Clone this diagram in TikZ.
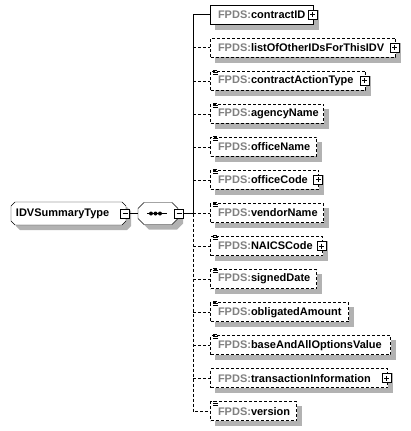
\documentclass[tikz,border=0pt]{standalone}
\usepackage{fontspec}
\setmainfont{Liberation Sans}
\usepackage{xcolor}
\usepackage{tikz}
\usetikzlibrary{backgrounds,calc}
\definecolor{nsgray}{RGB}{128,128,128}
\newcommand{\fpds}[1]{\mbox{\textcolor{nsgray}{FPDS:}#1}}
\newcommand{\facet}[1]{\draw[line width=.8pt] ([xshift=3pt,yshift=.5pt]#1.north west) -- ++(4,0) ([xshift=3pt,yshift=-1.5pt]#1.north west) -- ++(5,0) ([xshift=3pt,yshift=-3.5pt]#1.north west) -- ++(5,0);}
\newcommand{\castshadow}[1]{\path[fill=black!30] ([xshift=5pt,yshift=-5pt]#1.north west) rectangle ([xshift=5pt,yshift=-5pt]#1.south east);}
% octagon round a node: node, cut, extra shift
\newcommand{\octo}[3]{([#3,xshift=#2]#1.north west) -- ([#3,xshift=-#2]#1.north east) -- ([#3,yshift=-#2]#1.north east) -- ([#3,yshift=#2]#1.south east) -- ([#3,xshift=-#2]#1.south east) -- ([#3,xshift=#2]#1.south west) -- ([#3,yshift=#2]#1.south west) -- ([#3,yshift=-#2]#1.north west) -- cycle}

\begin{document}
\begin{tikzpicture}[
  x=1pt, y=-1pt, line width=1pt,
  font=\fontsize{11}{13}\selectfont\bfseries,
  elem/.style={draw,fill=white,minimum height=19pt,inner xsep=7.5pt,inner ysep=0pt,anchor=west,text width=#1,align=left},
  opt/.style={dash pattern=on 3pt off 2pt},
  typebx/.style={minimum height=22pt,inner xsep=4.5pt,inner ysep=0pt,anchor=west,text width=105pt,align=left},
  seqbx/.style={minimum width=39pt,minimum height=21pt,inner sep=0pt,anchor=west},
  expandbx/.style={draw,solid,fill=white,minimum size=9pt,inner sep=0pt,
    path picture={\draw ([xshift=2pt]path picture bounding box.west) -- ([xshift=-2pt]path picture bounding box.east);
                  \draw ([yshift=-2pt]path picture bounding box.north) -- ([yshift=2pt]path picture bounding box.south);}},
  collapsebx/.style={draw,solid,fill=white,minimum size=9pt,inner sep=0pt,
    path picture={\draw ([xshift=2pt]path picture bounding box.west) -- ([xshift=-2pt]path picture bounding box.east);}}
]
\useasboundingbox (0,0) rectangle (410,431);
% the complex type and its sequence
\node[typebx] (idv) at (11,213.5) {IDVSummaryType};
\node[seqbx] (seq) at (138,213.5) {};
\node[collapsebx] (m1) at ([xshift=-1pt]idv.east) {};
% child elements
\node[elem=88pt] (c1) at (210,14.5) {\fpds{contractID}};
\node[elem=170pt,opt] (c2) at (210,47.6) {\fpds{listOfOtherIDsForThisIDV}};
\node[elem=140pt,opt] (c3) at (210,80.7) {\fpds{contractActionType}};
\node[elem=98pt,opt] (c4) at (210,113.7) {\fpds{agencyName}};
\node[elem=91pt,opt] (c5) at (210,146.8) {\fpds{officeName}};
\node[elem=93pt,opt] (c6) at (210,179.9) {\fpds{officeCode}};
\node[elem=98pt,opt] (c7) at (210,213) {\fpds{vendorName}};
\node[elem=97pt,opt] (c8) at (210,246) {\fpds{NAICSCode}};
\node[elem=91pt,opt] (c9) at (210,279.1) {\fpds{signedDate}};
\node[elem=123pt,opt] (c10) at (210,312.2) {\fpds{obligatedAmount}};
\node[elem=165pt,opt] (c11) at (210,345.3) {\fpds{baseAndAllOptionsValue}};
\node[elem=162pt,opt] (c12) at (210,378.3) {\fpds{transactionInformation}};
\node[elem=71pt,opt] (c13) at (210,411.4) {\fpds{version}};
\facet{c3} \facet{c4} \facet{c5} \facet{c6} \facet{c7} \facet{c8} \facet{c9} \facet{c10} \facet{c11} \facet{c13}
\node[expandbx] (x1) at ([xshift=-1.5pt]c1.east) {};
\node[expandbx] (x2) at ([xshift=-1.5pt]c2.east) {};
\node[expandbx] (x3) at ([xshift=-1.5pt]c3.east) {};
\node[expandbx] (x6) at ([xshift=-1pt]c6.east) {};
\node[expandbx] (x8) at ([xshift=-1.5pt]c8.east) {};
\node[expandbx] (x12) at ([xshift=-1.5pt]c12.east) {};
% shadows and outlines under the nodes
\begin{pgfonlayer}{background}
\path[fill=black!30] \octo{idv}{4pt}{xshift=5pt,yshift=-5pt};
\draw[fill=white] \octo{idv}{4pt}{};
\path[fill=black!30] \octo{seq}{6pt}{xshift=5pt,yshift=-5pt};
\castshadow{c1} \castshadow{c2} \castshadow{c3} \castshadow{c4} \castshadow{c5} \castshadow{c6} \castshadow{c7}
\castshadow{c8} \castshadow{c9} \castshadow{c10} \castshadow{c11} \castshadow{c12} \castshadow{c13}
\end{pgfonlayer}
\draw[fill=white] \octo{seq}{6pt}{};
\draw ([xshift=-11pt]seq.center) -- ([xshift=9pt]seq.center);
\fill ([xshift=-7pt]seq.center) circle (2) ([xshift=-2.5pt]seq.center) circle (2) ([xshift=2pt]seq.center) circle (2);
\node[collapsebx] (m2) at ([xshift=1pt]seq.east) {};
% connectors
\coordinate (jn) at (193,213.5);
\draw (m1) -- (seq); \draw (m2) -- (jn);
\draw (jn) |- (c1.west); \draw[opt] (jn) |- (c13.west);
\draw[opt] (c2.west -| jn) -- (c2.west); \draw[opt] (c3.west -| jn) -- (c3.west); \draw[opt] (c4.west -| jn) -- (c4.west);
\draw[opt] (c5.west -| jn) -- (c5.west); \draw[opt] (c6.west -| jn) -- (c6.west); \draw[opt] (c7.west -| jn) -- (c7.west);
\draw[opt] (c8.west -| jn) -- (c8.west); \draw[opt] (c9.west -| jn) -- (c9.west); \draw[opt] (c10.west -| jn) -- (c10.west);
\draw[opt] (c11.west -| jn) -- (c11.west); \draw[opt] (c12.west -| jn) -- (c12.west);
\end{tikzpicture}
\end{document}
